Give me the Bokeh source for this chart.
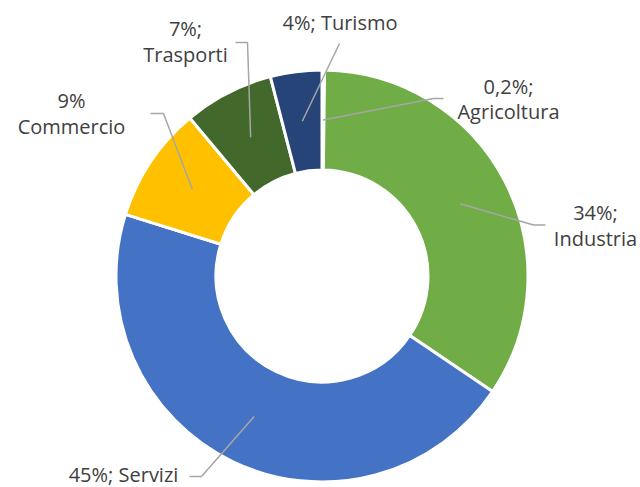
import math
from bokeh.plotting import figure
from bokeh.models import Range1d
from bokeh.core.properties import value
from bokeh.embed import file_html
from bokeh.resources import INLINE

# ---- data ----
categories = ["Agricoltura", "Industria", "Servizi", "Commercio", "Trasporti", "Turismo"]
shares = [0.2, 34, 45, 9, 7, 4]
labels = ["0,2%;\nAgricoltura", "34%;\nIndustria", "45%; Servizi",
          "9%\nCommercio", "7%;\nTrasporti", "4%; Turismo"]
colors = ["#A9D18E", "#70AD47", "#4472C4", "#FFC000", "#43682B", "#264478"]

# ---- layout (image pixel coordinates) ----
W, H = 640, 487
def Y(yi):
    return H - yi

cx, cy = 321.5, 275.5
R_OUT, R_IN = 206, 106
TEXT_SHIFT = 9  # renderer places baseline slightly low

# label baselines: (center x, [baseline y per line])
label_pos = [
    (508, [94.5, 120]),
    (595, [221, 247]),
    (123, [483]),
    (71, [109, 135]),
    (185, [37, 63]),
    (339.5, [31]),
]
# leader elbow / end points (image coords), start computed from slice geometry
leader_tail = [
    [(433, 98), (443, 98)],
    [(533, 224.5), (545, 224.5)],
    [(201, 476), (189, 476)],
    [(163, 113), (150, 113)],
    [(247, 42), (235, 42)],
    [(339, 43)],
]

p = figure(width=W, height=H, x_range=Range1d(0, W), y_range=Range1d(0, H),
           output_backend="svg", toolbar_location=None, min_border=0)
p.axis.visible = False
p.grid.visible = False
p.outline_line_color = None
p.background_fill_color = "white"

total = sum(shares)
cum = 0.0
starts, ends, mids = [], [], []
for s in shares:
    a0 = math.pi / 2 - 2 * math.pi * cum / total
    cum += s
    a1 = math.pi / 2 - 2 * math.pi * cum / total
    starts.append(a0)
    ends.append(a1)
    mids.append((a0 + a1) / 2)

p.annular_wedge(x=cx, y=Y(cy), inner_radius=R_IN, outer_radius=R_OUT,
                start_angle=starts, end_angle=ends, direction="clock",
                fill_color=colors, line_color="white", line_width=3)

# leader lines
r_mid = (R_OUT + R_IN) / 2
for m, tail in zip(mids, leader_tail):
    xs = [cx + r_mid * math.cos(m)] + [t[0] for t in tail]
    ys = [Y(cy) + r_mid * math.sin(m)] + [Y(t[1]) for t in tail]
    p.line(xs, ys, line_color="#A6A6A6", line_width=1.5)

# labels
tx, ty, tt = [], [], []
for lab, (x0, bases) in zip(labels, label_pos):
    for line, b in zip(lab.split("\n"), bases):
        tx.append(x0)
        ty.append(Y(b - TEXT_SHIFT))
        tt.append(line)
p.text(x=tx, y=ty, text=tt, text_font=value("Open Sans"), text_font_size="20px",
       text_color="#404040", text_align="center", text_baseline="alphabetic")

open("out.html", "w").write(file_html(p, INLINE))
